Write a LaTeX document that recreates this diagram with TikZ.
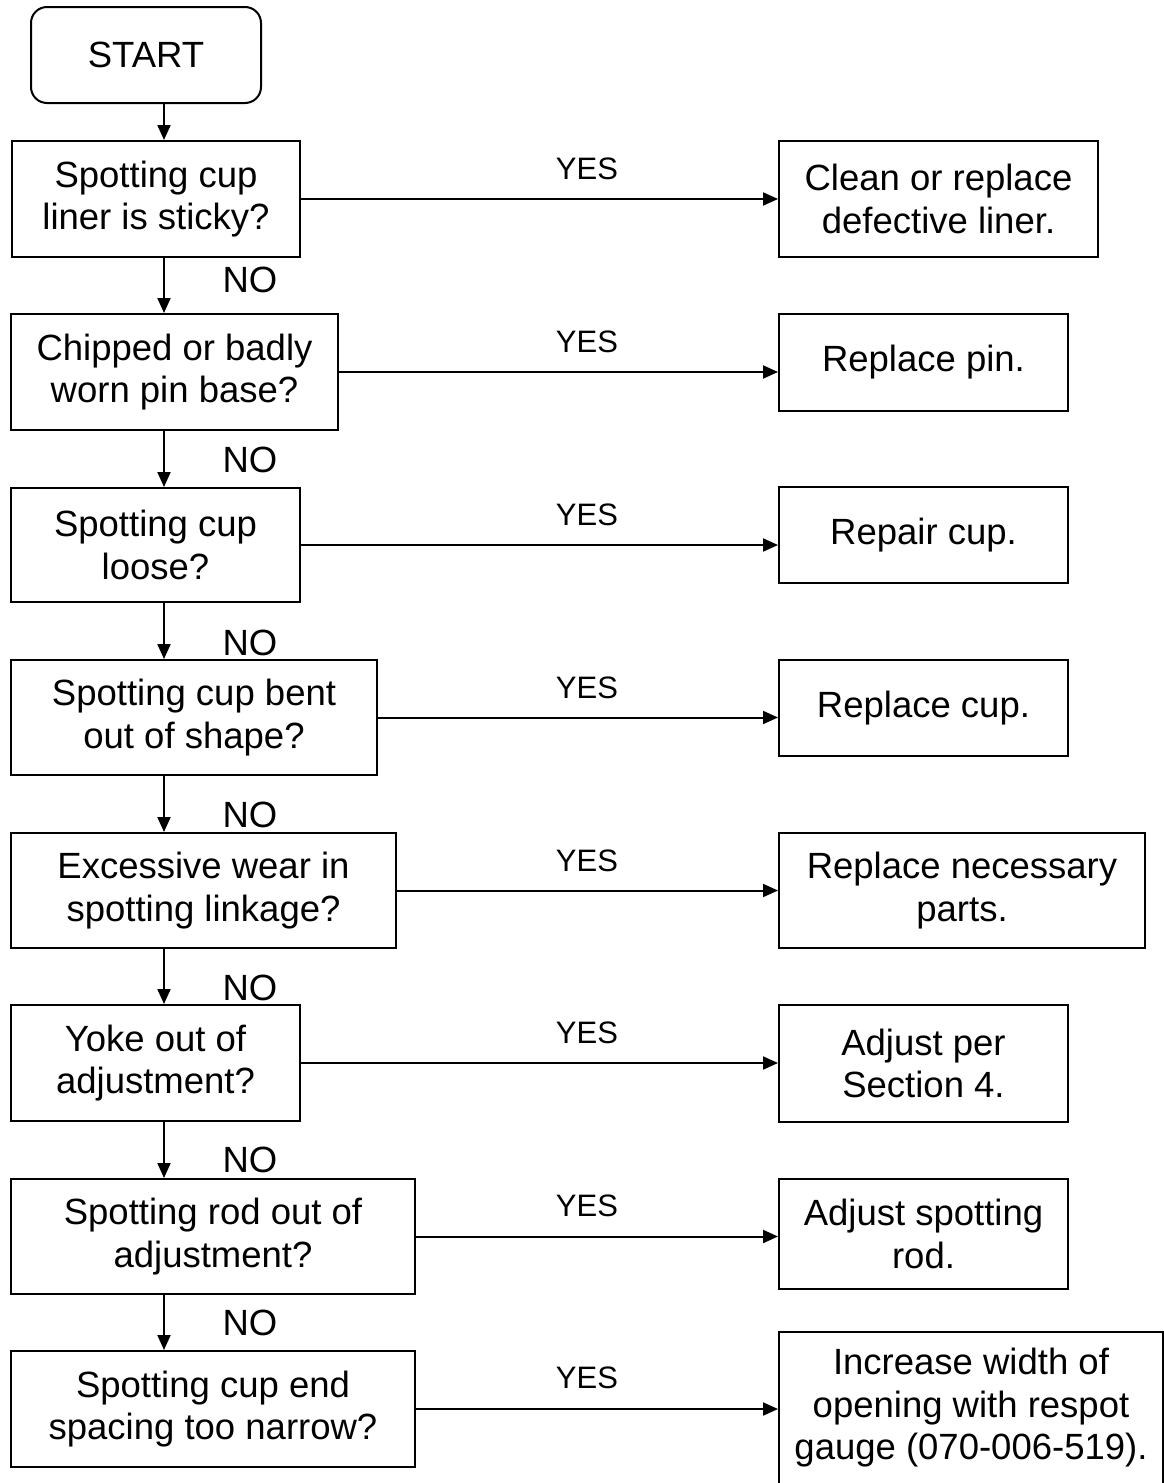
\documentclass[tikz,border=0pt]{standalone}
\usepackage{fontspec}
\setmainfont{Liberation Sans}
\usepackage{tikz}
\usetikzlibrary{arrows.meta,positioning,calc}

\begin{document}
\begin{tikzpicture}[x=1pt,y=-1pt,
  every node/.style={font=\fontsize{36.5}{42.5}\selectfont},
  box/.style={draw, line width=2pt, align=center, inner sep=0pt, anchor=north west, minimum height=116pt},
  lbl/.style={inner sep=0pt},
  yeslbl/.style={inner sep=0pt, font=\fontsize{31}{36}\selectfont},
  arr/.style={line width=2pt, -{Triangle[length=15pt,width=13pt]}}]
\useasboundingbox (0,0) rectangle (1163,1483);
\node[box, rounded corners=16pt, minimum width=230pt, minimum height=96pt] (start) at (30,6) {START};
\coordinate (spine) at (164,0);
\node[box, minimum width=288pt] (q1) at (11,140) {Spotting cup\\liner is sticky?};
\node[box, minimum width=327pt] (q2) at (10,313) {Chipped or badly\\worn pin base?};
\node[box, minimum width=289pt, minimum height=114pt] (q3) at (10,487) {Spotting cup\\loose?};
\node[box, minimum width=366pt, minimum height=115pt] (q4) at (10,659) {Spotting cup bent\\out of shape?};
\node[box, minimum width=385pt, minimum height=115pt] (q5) at (10,832) {Excessive wear in\\spotting linkage?};
\node[box, minimum width=289pt] (q6) at (10,1004) {Yoke out of\\adjustment?};
\node[box, minimum width=404pt, minimum height=115pt] (q7) at (10,1178) {Spotting rod out of\\adjustment?};
\node[box, minimum width=404pt] (q8) at (10,1350) {Spotting cup end\\spacing too narrow?};
\node[box, minimum width=319pt] (a1) at (778,140) {Clean or replace\\defective liner.};
\node[box, minimum width=289pt, minimum height=97pt] (a2) at (778,313) {Replace pin.};
\node[box, minimum width=289pt, minimum height=96pt] (a3) at (778,486) {Repair cup.};
\node[box, minimum width=289pt, minimum height=96pt] (a4) at (778,659) {Replace cup.};
\node[box, minimum width=366pt, minimum height=115pt] (a5) at (778,832) {Replace necessary\\parts.};
\node[box, minimum width=289pt, minimum height=117pt] (a6) at (778,1004) {Adjust per\\Section 4.};
\node[box, minimum width=289pt, minimum height=110pt] (a7) at (778,1178) {Adjust spotting\\rod.};
\node[box, minimum width=384pt, minimum height=152pt] (a8) at (778,1331) {Increase width of\\opening with respot\\gauge (070-006-519).};
\node[lbl] (n1) at (250,280) {NO};
\node[lbl] (n2) at (250,460) {NO};
\node[lbl] (n3) at (250,643) {NO};
\node[lbl] (n4) at (250,815) {NO};
\node[lbl] (n5) at (250,988) {NO};
\node[lbl] (n6) at (250,1160) {NO};
\node[lbl] (n7) at (250,1323) {NO};
\node[yeslbl] (y1) at (587,169) {YES};
\node[yeslbl] (y2) at (587,342) {YES};
\node[yeslbl] (y3) at (587,515) {YES};
\node[yeslbl] (y4) at (587,688) {YES};
\node[yeslbl] (y5) at (587,861) {YES};
\node[yeslbl] (y6) at (587,1033) {YES};
\node[yeslbl] (y7) at (587,1206) {YES};
\node[yeslbl] (y8) at (587,1378) {YES};
\draw[arr] (start.south -| spine) -- (q1.north -| spine);
\draw[arr] (q1.south -| spine) -- (q2.north -| spine);
\draw[arr] (q2.south -| spine) -- (q3.north -| spine);
\draw[arr] (q3.south -| spine) -- (q4.north -| spine);
\draw[arr] (q4.south -| spine) -- (q5.north -| spine);
\draw[arr] (q5.south -| spine) -- (q6.north -| spine);
\draw[arr] (q6.south -| spine) -- (q7.north -| spine);
\draw[arr] (q7.south -| spine) -- (q8.north -| spine);
\draw[arr] (q1.east) -- (q1.east -| a1.west);
\draw[arr] (q2.east) -- (q2.east -| a2.west);
\draw[arr] (q3.east) -- (q3.east -| a3.west);
\draw[arr] (q4.east) -- (q4.east -| a4.west);
\draw[arr] (q5.east) -- (q5.east -| a5.west);
\draw[arr] (q6.east) -- (q6.east -| a6.west);
\draw[arr] (q7.east) -- (q7.east -| a7.west);
\draw[arr] (q8.east) -- (q8.east -| a8.west);
\end{tikzpicture}
\end{document}
